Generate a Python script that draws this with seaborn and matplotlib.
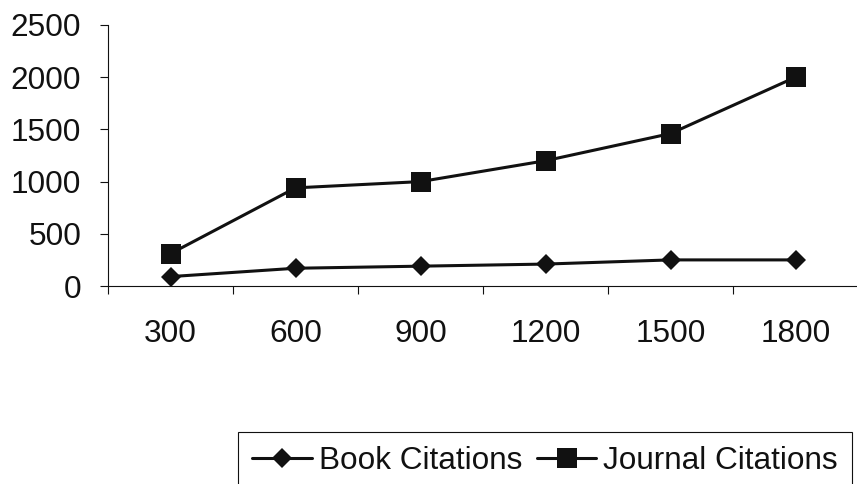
import matplotlib
matplotlib.use("Agg")
import matplotlib.pyplot as plt
import pandas as pd
import seaborn as sns

# Collection size vs. number of citations
sizes = ["300", "600", "900", "1200", "1500", "1800"]
book_citations = [90, 170, 190, 210, 250, 250]
journal_citations = [310, 940, 1000, 1200, 1460, 2000]
y_ticks = [0, 500, 1000, 1500, 2000, 2500]
series_names = ["Book Citations", "Journal Citations"]

df = pd.DataFrame({
    "size": sizes * 2,
    "citations": book_citations + journal_citations,
    "series": [series_names[0]] * len(sizes) + [series_names[1]] * len(sizes),
})

sns.set_theme(style="white")
plt.rcParams["font.family"] = ["Liberation Sans", "DejaVu Sans"]

ink = "#111111"
fs = 22.7

fig = plt.figure(figsize=(8.57, 4.84), dpi=100)
ax = fig.add_axes([108 / 857, 1 - 286 / 484, 750 / 857, 261 / 484])

sns.lineplot(
    data=df, x="size", y="citations", hue="series", style="series",
    markers={series_names[0]: "D", series_names[1]: "s"}, dashes=False,
    palette={series_names[0]: ink, series_names[1]: ink},
    linewidth=2.2, markeredgewidth=0, sort=False, legend=False, ax=ax,
)

lines = ax.get_lines()[:2]
lines[0].set_markersize(10.5)
lines[1].set_markersize(14.5)
for ln in lines:
    ln.set_solid_joinstyle("miter")

ax.set_xlim(-0.5, len(sizes) - 0.5)
ax.set_ylim(0, 2500)
ax.set_yticks(y_ticks)
ax.set_xticks(range(len(sizes)))
ax.set_xticklabels(sizes)
ax.set_xticks([i - 0.5 for i in range(len(sizes) + 1)], minor=True)
ax.set_xlabel("")
ax.set_ylabel("")

for side in ["top", "right"]:
    ax.spines[side].set_visible(False)
for side in ["left", "bottom"]:
    ax.spines[side].set_color(ink)
    ax.spines[side].set_linewidth(0.8)

ax.tick_params(axis="y", which="major", direction="out", length=5.8, width=0.8,
               color=ink, left=True, pad=13.5, labelsize=fs, labelcolor=ink)
ax.tick_params(axis="x", which="major", length=0, pad=23.5, labelsize=fs, labelcolor=ink)
ax.tick_params(axis="x", which="minor", direction="out", length=5.8, width=0.8,
               color=ink, bottom=True)

leg = fig.legend(
    lines, series_names, loc="upper left",
    bbox_to_anchor=(238 / 857, 1 - 432 / 484), bbox_transform=fig.transFigure,
    ncol=2, frameon=True, fancybox=False, framealpha=1, edgecolor=ink,
    borderpad=0.45, borderaxespad=0, handlelength=1.9, handletextpad=0.22,
    columnspacing=0.45, fontsize=fs, numpoints=1,
)
leg.get_frame().set_linewidth(0.8)
for t in leg.get_texts():
    t.set_color(ink)

fig.savefig("out.png", dpi=100, facecolor="white")
